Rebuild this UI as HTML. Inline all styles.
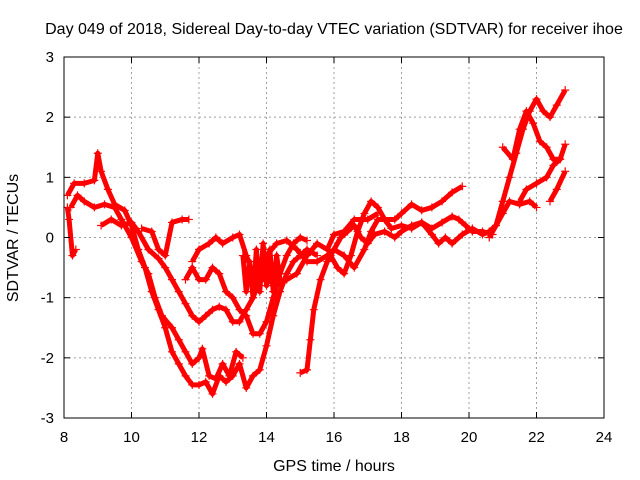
<!DOCTYPE html>
<html><head><meta charset="utf-8"><style>
body{margin:0;background:#fff}
svg{display:block;font-family:"Liberation Sans",sans-serif}
</style></head><body>
<svg id="chart" width="640" height="480">
<text x="334" y="34" font-size="16" text-anchor="middle">Day 049 of 2018, Sidereal Day-to-day VTEC variation (SDTVAR) for receiver ihoe</text>
<text x="334" y="471" font-size="16" text-anchor="middle">GPS time / hours</text>
<text transform="translate(18,238) rotate(-90)" font-size="16" text-anchor="middle">SDTVAR / TECUs</text>
<g id="grid"></g><g id="series"></g><g id="axes"></g>
</svg>
<script>
const xTicks=[8,10,12,14,16,18,20,22,24];
const yTicks=[-3,-2,-1,0,1,2,3];
const track1=[[8.1,0.7],[8.3,0.9],[8.6,0.9],[8.9,0.95],[9.0,1.4],[9.1,1.1],[9.3,0.8],[9.5,0.55],[9.8,0.45],[10.0,0.2],[10.2,-0.2],[10.4,-0.5],[10.6,-0.9],[10.8,-1.2],[11.0,-1.5],[11.2,-1.9],[11.4,-2.1],[11.6,-2.3],[11.8,-2.45],[12.0,-2.45],[12.2,-2.4],[12.4,-2.6],[12.6,-2.3],[12.8,-2.4],[13.0,-2.3],[13.2,-2.1],[13.4,-2.5],[13.6,-2.3],[13.8,-2.2],[14.0,-1.8],[14.2,-1.3],[14.4,-0.9],[14.6,-0.6],[14.8,-0.4],[15.0,-0.3],[15.2,-0.2],[15.5,-0.3]];
const track2=[[8.1,0.5],[8.15,0.3],[8.25,-0.3],[8.35,-0.2]];
const track3=[[8.2,0.5],[8.4,0.7],[8.6,0.6],[8.9,0.5],[9.2,0.55],[9.5,0.5],[9.7,0.3],[10.0,0.0],[10.3,-0.4],[10.5,-0.6],[10.7,-1.0],[10.9,-1.3],[11.2,-1.5],[11.4,-1.7],[11.6,-1.9],[11.8,-2.1],[12.0,-2.0],[12.1,-1.85],[12.3,-2.3],[12.5,-2.35],[12.7,-2.1],[12.9,-2.3],[13.1,-1.9],[13.3,-2.0]];
const track4=[[9.1,0.2],[9.4,0.3],[9.7,0.2],[10.0,0.25],[10.2,0.1],[10.5,-0.2],[10.8,-0.35],[11.0,-0.5],[11.2,-0.7],[11.4,-0.9],[11.6,-1.1],[11.8,-1.3],[12.0,-1.4],[12.2,-1.3],[12.4,-1.2],[12.6,-1.15],[12.8,-1.2],[13.0,-1.4],[13.2,-1.4],[13.4,-1.2],[13.6,-1.0],[13.8,-0.7],[14.0,-0.7],[14.3,-0.8],[14.6,-0.7],[14.9,-0.6],[15.2,-0.3],[15.5,-0.1],[15.8,-0.2],[16.0,0.05],[16.3,0.1],[16.6,0.3],[17.0,0.3],[17.3,0.4]];
const track5=[[10.3,0.15],[10.6,0.1],[10.8,-0.2],[11.0,-0.3],[11.2,0.25],[11.5,0.3],[11.7,0.3]];
const track6=[[11.8,-0.4],[12.0,-0.2],[12.3,-0.1],[12.5,0.0],[12.7,-0.1],[13.0,0.0],[13.2,0.05],[13.4,-0.3],[13.6,-0.6],[13.8,-0.5],[14.0,-0.3],[14.3,-0.1],[14.6,-0.05],[14.9,-0.2],[15.2,-0.4],[15.5,-0.4],[15.8,-0.3],[16.0,-0.2],[16.3,-0.3],[16.6,-0.5],[16.9,-0.2],[17.1,0.1],[17.3,0.3],[17.5,0.3],[17.8,0.3],[18.0,0.4],[18.3,0.55],[18.6,0.45],[18.9,0.5],[19.2,0.6],[19.5,0.75],[19.8,0.85]];
const track7=[[11.6,-0.7],[11.8,-0.5],[12.0,-0.7],[12.2,-0.7],[12.4,-0.5],[12.6,-0.6],[12.8,-0.9],[13.0,-1.0],[13.2,-1.2],[13.4,-1.3],[13.6,-1.6],[13.8,-1.6],[14.0,-1.4],[14.2,-1.0],[14.4,-0.6],[14.6,-0.3],[14.8,-0.1],[15.0,0.0],[15.2,-0.05]];
const track8=[[15.0,-2.25],[15.2,-2.2],[15.3,-1.7],[15.4,-1.2],[15.6,-0.7],[15.8,-0.4],[16.0,-0.2],[16.2,0.0],[16.4,0.1],[16.6,0.2],[16.8,0.0],[17.0,-0.1],[17.2,0.05],[17.5,0.1],[17.8,0.0],[18.0,0.1],[18.3,0.2],[18.6,0.25],[18.9,0.15],[19.2,0.25],[19.5,0.35],[19.7,0.3],[19.9,0.2],[20.1,0.1],[20.4,0.1],[20.7,0.05]];
const track9=[[15.9,-0.3],[16.1,-0.5],[16.3,-0.6],[16.5,-0.3],[16.7,0.1],[16.9,0.4],[17.1,0.6],[17.3,0.5],[17.5,0.3],[17.7,0.15],[18.0,0.2],[18.3,0.15],[18.6,0.25],[18.9,0.05],[19.1,-0.1],[19.3,0.0],[19.5,-0.1],[19.8,0.05],[20.1,0.15],[20.4,0.05],[20.6,0.1],[20.8,0.2],[21.0,0.4],[21.2,0.6],[21.5,0.55],[21.8,0.6],[22.0,0.5]];
const track10=[[20.6,0.0],[20.8,0.2],[21.0,0.6],[21.2,1.0],[21.4,1.4],[21.6,1.8],[21.8,2.1],[22.0,2.3],[22.2,2.1],[22.4,2.0],[22.6,2.2],[22.85,2.45]];
const track11=[[21.0,1.5],[21.3,1.3],[21.5,1.8],[21.7,2.1],[21.9,1.9],[22.1,1.6],[22.3,1.5],[22.5,1.3],[22.7,1.3],[22.85,1.55]];
const track12=[[21.5,0.6],[21.7,0.8],[22.0,0.9],[22.3,1.0],[22.5,1.2],[22.7,1.3]];
const track13=[[22.4,0.6],[22.6,0.8],[22.85,1.1]];
const track14=[[13.3,-0.3],[13.4,-0.9],[13.5,-0.4],[13.6,-1.0],[13.7,-0.2],[13.8,-0.9],[13.9,-0.1],[14.0,-0.8],[14.1,-0.2],[14.2,-0.9],[14.3,-0.3],[14.4,-0.7]];
const tracks=[track1,track2,track3,track4,track5,track6,track7,track8,track9,track10,track11,track12,track13,track14];

const L=64,R=604,T=57,B=418;
const X=t=>L+(t-8)/(24-8)*(R-L);
const Y=v=>B-(v+3)/6*(B-T);
const NS='http://www.w3.org/2000/svg';
function mk(tag,attrs,parent){const e=document.createElementNS(NS,tag);for(const k in attrs)e.setAttribute(k,attrs[k]);parent.appendChild(e);return e;}
const grid=document.getElementById('grid'),axes=document.getElementById('axes'),ser=document.getElementById('series');
xTicks.forEach(t=>{
  const x=X(t);
  if(t>8&&t<24){const g=mk('line',{x1:x,y1:T,x2:x,y2:B,stroke:'#a0a0a0','stroke-dasharray':'2,3'},grid);
  
  }
  mk('line',{x1:x,y1:B,x2:x,y2:B-6,stroke:'#000'},axes);
  mk('line',{x1:x,y1:T,x2:x,y2:T+6,stroke:'#000'},axes);
  const lb=mk('text',{x:x,y:B+24,'font-size':15,'text-anchor':'middle'},axes);lb.textContent=t;
  
  
});
yTicks.forEach(v=>{
  const y=Y(v);
  if(v>-3&&v<3){const g=mk('line',{x1:L,y1:y,x2:R,y2:y,stroke:'#a0a0a0','stroke-dasharray':'2,3'},grid);
  
  }
  mk('line',{x1:L,y1:y,x2:L+6,y2:y,stroke:'#000'},axes);
  mk('line',{x1:R,y1:y,x2:R-6,y2:y,stroke:'#000'},axes);
  const lb=mk('text',{x:L-10,y:y+5,'font-size':15,'text-anchor':'end'},axes);lb.textContent=v;
  
  
});
const frame=mk('rect',{x:L,y:T,width:R-L,height:B-T,fill:'none',stroke:'#000'},axes);


tracks.forEach((tr,i)=>{
  const g=mk('g',{},ser);
  
  
  mk('polyline',{points:tr.map(p=>X(p[0])+','+Y(p[1])).join(' '),fill:'none',stroke:'#ff0000','stroke-width':5,'stroke-linejoin':'round'},g);
  tr.forEach(p=>{
    const x=X(p[0]),y=Y(p[1]);
    mk('path',{d:`M${x-4},${y}H${x+4}M${x},${y-4}V${y+4}`,stroke:'#ff0000','stroke-width':1.2},g);
  });
});
</script>
</body></html>
